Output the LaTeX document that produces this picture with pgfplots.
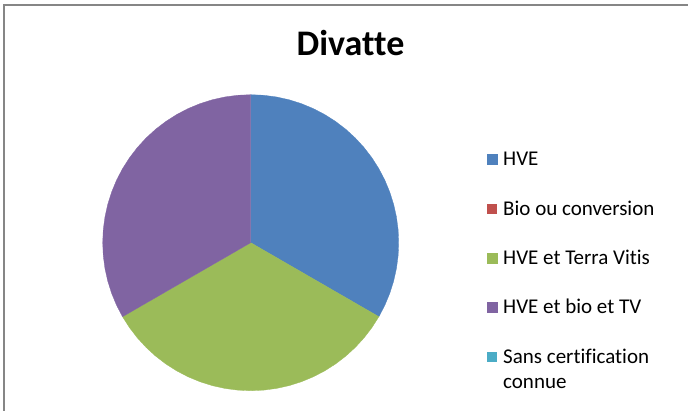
\documentclass[border=0pt]{standalone}
\usepackage{fontspec}
\setmainfont{Carlito}[Ligatures={NoCommon}]
\usepackage{pgfplots}
\pgfplotsset{compat=1.18}
\usepgfplotslibrary{polar}
\definecolor{hveblue}{HTML}{4F81BD}
\definecolor{biored}{HTML}{C0504D}
\definecolor{tvgreen}{HTML}{9BBB59}
\definecolor{allpurple}{HTML}{8064A2}
\definecolor{sansaqua}{HTML}{4BACC6}
\definecolor{frame}{HTML}{868686}
\begin{document}
\begin{tikzpicture}[x=1pt,y=1pt]
\useasboundingbox (0,0) rectangle (688,410);
\draw[frame, line width=1.5pt] (4,-5) -- (4,405) -- (700,405);
\node[font=\fontsize{36}{43}\selectfont\bfseries, anchor=base] at (350.5,354) {Divatte};
\begin{axis}[
  hide axis, scale only axis,
  x=148pt, y=148pt,
  xmin=-1, xmax=1, ymin=-1, ymax=1,
  at={(250.7pt,167.3pt)}, anchor=center,
  legend image code/.code={\fill[#1] (0pt,1.5pt) rectangle (10pt,11.5pt);},
  legend style={draw=none, fill=none, at={(1.298,0.82)}, anchor=north west,
    inner sep=0pt, outer sep=0pt, row sep=29.9pt, column sep=6pt,
    font=\fontsize{21}{25.6}\selectfont,
    cells={anchor=base west, align=left},
    nodes={inner sep=0pt}},
]
\addplot[data cs=polar, fill=hveblue, draw=hveblue, line width=0.3pt] coordinates {
(0,0) (90,1) (85,1) (80,1) (75,1) (70,1) (65,1) (60,1) (55,1) (50,1) (45,1) (40,1) (35,1) (30,1) (25,1) (20,1) (15,1) (10,1) (5,1) (0,1) (-5,1) (-10,1) (-15,1) (-20,1) (-25,1) (-30,1) (0,0)} \closedcycle;
\addlegendentry{\strut HVE}
\addlegendimage{fill=biored, draw=none}
\addlegendentry{\strut Bio ou conversion}
\addplot[data cs=polar, fill=tvgreen, draw=tvgreen, line width=0.3pt] coordinates {
(0,0) (-30,1) (-35,1) (-40,1) (-45,1) (-50,1) (-55,1) (-60,1) (-65,1) (-70,1) (-75,1) (-80,1) (-85,1) (-90,1) (-95,1) (-100,1) (-105,1) (-110,1) (-115,1) (-120,1) (-125,1) (-130,1) (-135,1) (-140,1) (-145,1) (-150,1) (0,0)} \closedcycle;
\addlegendentry{\strut HVE et Terra Vitis}
\addplot[data cs=polar, fill=allpurple, draw=allpurple, line width=0.3pt] coordinates {
(0,0) (210,1) (205,1) (200,1) (195,1) (190,1) (185,1) (180,1) (175,1) (170,1) (165,1) (160,1) (155,1) (150,1) (145,1) (140,1) (135,1) (130,1) (125,1) (120,1) (115,1) (110,1) (105,1) (100,1) (95,1) (90,1) (0,0)} \closedcycle;
\addlegendentry{\strut HVE et bio et TV}
\addlegendimage{fill=sansaqua, draw=none}
\addlegendentry{\begin{tabular}[t]{@{}l@{}}Sans certification\\connue\end{tabular}}
\end{axis}
\end{tikzpicture}
\end{document}
